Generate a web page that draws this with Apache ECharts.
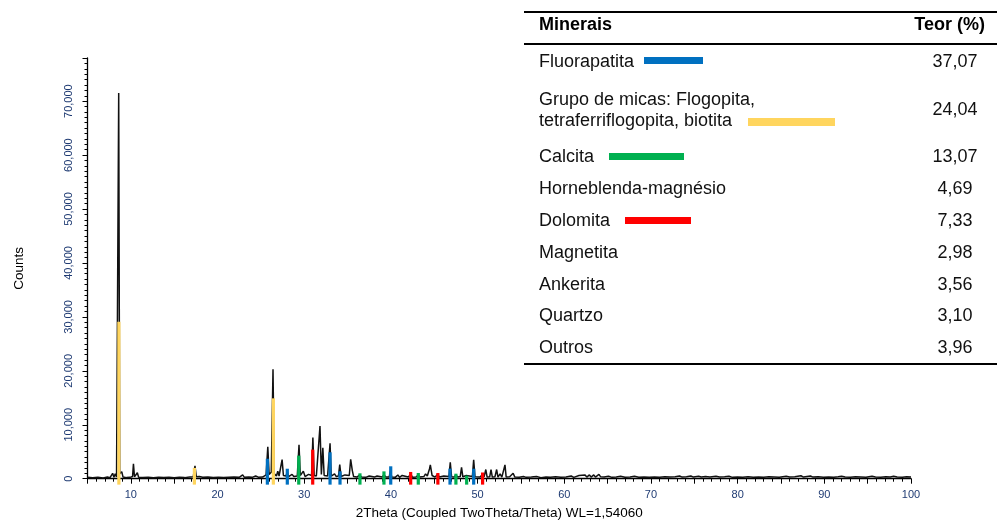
<!DOCTYPE html>
<html>
<head>
<meta charset="utf-8">
<script src="https://cdn.jsdelivr.net/npm/echarts@6/dist/echarts.min.js"></script>
<style>html,body{margin:0;padding:0;background:#fff;}#c{width:997px;height:522px;}</style>
</head>
<body>
<div id="c"></div>
<script>
// ---------- DATA ----------
const xTickLabels = [10, 20, 30, 40, 50, 60, 70, 80, 90, 100];

// measured XRD pattern [2theta, counts]
const pattern = [
[5.0,250],[5.6,180],[6.2,260],[6.8,150],[7.3,300],[7.6,200],[7.9,1000],[8.05,250],[8.2,900],[8.35,300],[8.5,600],[8.6,71500],[8.72,900],[8.95,1300],[9.1,300],[9.5,200],[9.9,250],[10.2,400],[10.3,2750],[10.42,350],[10.6,300],[10.75,1100],[10.9,250],[11.4,200],[12.0,280],[12.6,180],[13.2,260],[13.8,200],[14.4,250],[15.0,180],[15.6,260],[16.2,200],[16.8,300],[17.2,350],[17.4,2400],[17.55,350],[17.9,400],[18.3,250],[18.9,300],[19.5,220],[20.1,280],[20.7,200],[21.3,260],[21.9,300],[22.5,250],[22.9,700],[23.1,250],[23.6,300],[23.8,600],[24.0,250],[24.4,500],[24.7,280],[25.2,300],[25.6,700],[25.8,5900],[25.95,800],[26.2,1200],[26.4,20300],[26.55,900],[26.8,500],[26.95,1400],[27.1,500],[27.3,600],[27.45,3550],[27.6,600],[27.9,500],[28.05,1300],[28.2,400],[28.6,800],[28.8,400],[29.2,500],[29.4,6300],[29.55,600],[29.9,1400],[30.1,400],[30.5,800],[30.7,500],[30.85,600],[31.0,7650],[31.15,600],[31.4,500],[31.6,700],[31.82,9750],[31.98,800],[32.15,5750],[32.3,600],[32.7,500],[32.98,6550],[33.12,500],[33.5,900],[33.7,400],[33.95,500],[34.1,2600],[34.25,400],[34.7,700],[34.9,400],[35.2,600],[35.36,3600],[35.55,1500],[35.7,400],[36.1,300],[36.4,700],[36.6,300],[37.1,250],[37.5,500],[37.7,250],[38.1,300],[38.4,500],[38.6,250],[39.0,300],[39.2,800],[39.4,300],[39.8,300],[39.95,1500],[40.1,300],[40.5,250],[40.8,700],[41.0,250],[41.3,600],[41.5,250],[42.0,300],[42.3,800],[42.5,250],[42.9,300],[43.15,700],[43.35,300],[43.8,400],[44.0,900],[44.2,500],[44.45,1800],[44.55,2550],[44.75,600],[45.1,300],[45.4,800],[45.6,300],[46.1,500],[46.3,250],[46.7,400],[46.85,3050],[47.0,350],[47.3,300],[47.5,700],[47.7,300],[48.0,400],[48.15,2100],[48.3,350],[48.7,600],[48.9,300],[49.4,400],[49.55,3500],[49.7,350],[50.3,300],[50.6,900],[50.75,350],[50.95,1700],[51.1,300],[51.4,350],[51.55,1700],[51.7,300],[52.0,350],[52.2,1700],[52.35,300],[52.6,900],[52.8,300],[53.0,400],[53.16,2550],[53.3,300],[53.7,350],[54.1,1000],[54.3,300],[54.8,250],[55.3,400],[55.6,250],[56.2,300],[56.8,400],[57.3,200],[57.9,300],[58.4,250],[59.0,350],[59.6,250],[60.2,300],[60.8,500],[61.1,250],[61.7,600],[61.9,300],[62.4,700],[62.6,300],[62.9,700],[63.1,300],[63.4,700],[63.6,300],[64.0,800],[64.2,350],[64.4,600],[64.6,300],[65.1,450],[65.5,250],[66.0,300],[66.5,450],[67.0,250],[67.6,300],[68.1,450],[68.6,250],[69.2,300],[69.8,250],[70.4,300],[71.0,250],[71.6,350],[72.2,300],[72.8,350],[73.3,500],[73.6,300],[74.1,350],[74.6,500],[74.9,300],[75.5,450],[75.8,300],[76.3,400],[76.8,300],[77.5,450],[77.9,300],[78.5,350],[79.0,450],[79.4,250],[80.0,300],[80.6,250],[81.2,350],[81.8,250],[82.4,300],[83.0,250],[83.6,350],[84.2,300],[84.8,250],[85.6,450],[86.0,300],[86.6,350],[87.3,550],[87.6,300],[88.4,500],[88.7,300],[89.3,350],[89.9,250],[90.5,300],[91.1,250],[91.6,350],[92.0,450],[92.4,300],[93.0,250],[93.6,350],[94.2,300],[94.8,250],[95.5,450],[95.9,300],[96.5,250],[97.1,350],[97.6,300],[98.0,450],[98.4,300],[99.0,250],[99.5,350],[100.0,300]
];

// phase reference sticks [2theta, counts]
const sticksFluorapatita = [[25.75,3700],[28.05,1850],[32.98,4900],[34.13,1370],[39.98,2300],[46.82,1870],[49.55,1850]];
const sticksMicas = [[8.62,29100],[17.33,2000],[26.44,14900]];
const sticksCalcita = [[29.37,4280],[36.43,1000],[39.2,1360],[43.16,1060],[47.5,930],[48.74,560]];
const sticksDolomita = [[30.98,5400],[42.28,1250],[45.42,1060],[50.58,1150]];

// table
const minerals = ['Fluorapatita', 'Grupo de micas: Flogopita,\ntetraferriflogopita, biotita', 'Calcita', 'Horneblenda-magnésio', 'Dolomita', 'Magnetita', 'Ankerita', 'Quartzo', 'Outros'];
const teor = ['37,07', '24,04', '13,07', '4,69', '7,33', '2,98', '3,56', '3,10', '3,96'];

// ---------- STYLE ----------
const FONT = "'Liberation Sans', Arial, sans-serif";
const COL = { blue: '#0070C0', yellow: '#FFD55E', green: '#00B050', red: '#FF0000' };
const LABEL_COLOR = '#1F3B73';
const STICK_BASE = -1100;
const rowY = [62.5, 110.5, 157, 189, 221, 253, 285, 316, 348];
const legendBars = [
  { row: 0, x: 644, y: 57, w: 59, h: 7, c: COL.blue },
  { row: 1, x: 748, y: 118, w: 87, h: 8, c: COL.yellow },
  { row: 2, x: 609, y: 153, w: 75, h: 7, c: COL.green },
  { row: 4, x: 625, y: 217, w: 66, h: 7, c: COL.red }
];

function stickSeries(name, data, color) {
  return {
    name, type: 'custom', data, z: 5, silent: true,
    renderItem(params, api) {
      const x = api.value(0), h = api.value(1);
      const top = api.coord([x, h]);
      const bot = api.coord([x, STICK_BASE]);
      return { type: 'rect', shape: { x: top[0] - 1.6, y: top[1], width: 3.2, height: bot[1] - top[1] }, style: { fill: color } };
    }
  };
}

const graphics = [];
// rules
[11, 43, 363].forEach(y => graphics.push({ type: 'rect', shape: { x: 524, y, width: 473, height: 2 }, style: { fill: '#000' } }));
graphics.push({ type: 'text', x: 539, y: 25, style: { text: 'Minerais', font: 'bold 18px ' + FONT, fill: '#000', textAlign: 'left', textVerticalAlign: 'middle' } });
graphics.push({ type: 'text', x: 985, y: 25, style: { text: 'Teor (%)', font: 'bold 18px ' + FONT, fill: '#000', textAlign: 'right', textVerticalAlign: 'middle' } });
minerals.forEach((m, i) => {
  graphics.push({ type: 'text', x: 539, y: rowY[i], style: { text: m, font: '18px ' + FONT, lineHeight: 21, fill: '#111', textAlign: 'left', textVerticalAlign: 'middle' } });
  graphics.push({ type: 'text', x: 955, y: rowY[i], style: { text: teor[i], font: '18px ' + FONT, fill: '#111', textAlign: 'center', textVerticalAlign: 'middle' } });
});
legendBars.forEach(b => graphics.push({ type: 'rect', shape: { x: b.x, y: b.y, width: b.w, height: b.h }, style: { fill: b.c } }));

const fmtThousands = v => String(v).replace(/\B(?=(\d{3})+(?!\d))/g, ',');

const chart = echarts.init(document.getElementById('c'), null, { renderer: 'canvas' });
chart.setOption({
  animation: false,
  backgroundColor: '#fff',
  grid: { left: 87.5, right: 86, top: 58, bottom: 43.3, containLabel: false, outerBoundsMode: 'none' },
  xAxis: {
    type: 'value', min: 5, max: 100, interval: 5,
    name: '2Theta (Coupled TwoTheta/Theta) WL=1,54060',
    nameLocation: 'middle', nameGap: 28,
    nameTextStyle: { fontFamily: FONT, fontSize: 13.5, color: '#000' },
    axisLine: { onZero: false, lineStyle: { color: '#000', width: 1.3 } },
    axisTick: { length: 5, lineStyle: { color: '#000' } },
    minorTick: { show: true, splitNumber: 5, length: 3, lineStyle: { color: '#000' } },
    splitLine: { show: false },
    axisLabel: {
      margin: 11, fontFamily: FONT, fontSize: 11, color: LABEL_COLOR,
      formatter: v => (xTickLabels.indexOf(v) >= 0 ? String(v) : '')
    }
  },
  yAxis: {
    type: 'value', min: 0, max: 78000, interval: 10000,
    name: 'Counts', nameLocation: 'middle', nameGap: 61, nameRotate: 90,
    nameTextStyle: { fontFamily: FONT, fontSize: 13.5, color: '#000' },
    axisLine: { show: true, lineStyle: { color: '#000', width: 1.3 } },
    axisTick: { show: true, length: 5, lineStyle: { color: '#000' } },
    minorTick: { show: true, splitNumber: 10, length: 3, lineStyle: { color: '#000' } },
    splitLine: { show: false },
    axisLabel: { rotate: 90, margin: 13, showMaxLabel: false, fontFamily: FONT, fontSize: 11, color: LABEL_COLOR, formatter: fmtThousands }
  },
  series: [
    { name: 'pattern', type: 'line', data: pattern, symbol: 'none', z: 3, silent: true,
      lineStyle: { color: '#111', width: 1.5 } },
    stickSeries('Fluorapatita', sticksFluorapatita, COL.blue),
    stickSeries('Micas', sticksMicas, COL.yellow),
    stickSeries('Calcita', sticksCalcita, COL.green),
    stickSeries('Dolomita', sticksDolomita, COL.red)
  ],
  graphic: graphics
});
</script>
</body>
</html>
